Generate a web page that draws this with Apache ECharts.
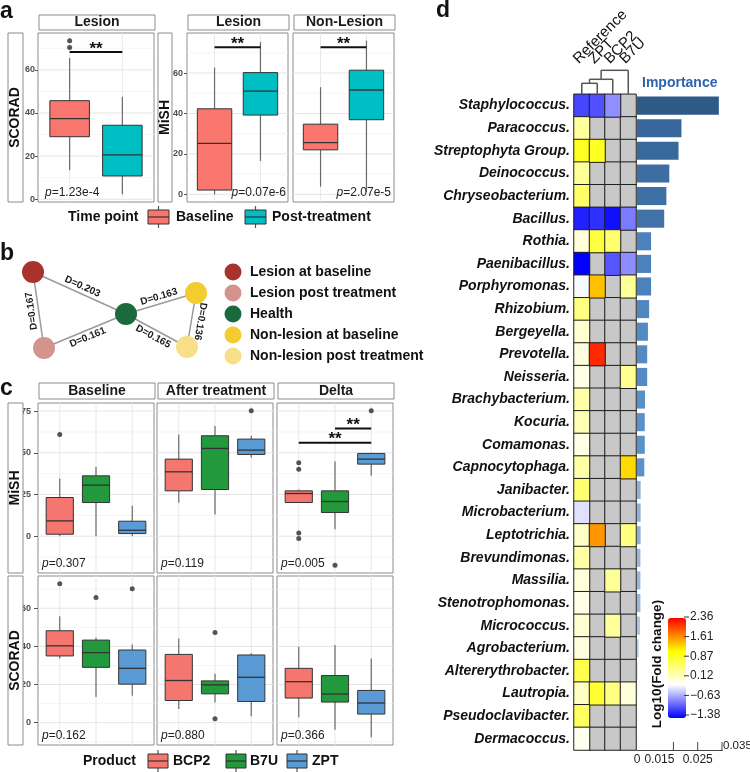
<!DOCTYPE html>
<html><head><meta charset="utf-8">
<script src="https://cdn.jsdelivr.net/npm/echarts@6/dist/echarts.min.js"></script>
<style>html,body{margin:0;padding:0;background:#fff}#main{width:750px;height:772px}</style>
</head><body><div id="main"></div>
<script>
// ================= DATA =================
// Panel a: boxplot stats [min, Q1, median, Q3, max]
const timePoints = ['Baseline', 'Post-treatment'];
const aFacets = ['Lesion', 'Lesion', 'Non-Lesion'];
const aScoradLesion = [[13.4, 29, 37.4, 45.7, 65.5], [2.3, 10.8, 20.6, 34.3, 47.5]];
const aScoradLesionOutliers = [[1, 73.5], [1, 70.3]];
const aMishLesion = [[0, 2.1, 25.2, 42.3, 62.7], [16.5, 39.2, 51, 60.2, 75.3]];
const aMishNonLesion = [[3.8, 22, 25.6, 34.7, 53], [1.2, 36.9, 51.6, 61.4, 76]];
const aPValues = ['1.23e-4', '0.07e-6', '2.07e-5'];
const aSignif = [[1, 2, 68.3], [1, 2, 72.8], [1, 2, 72.8]];
const aTicks = [0, 20, 40, 60];

// Panel b: network
const networkNodes = ['Lesion at baseline', 'Lesion post treatment', 'Health', 'Non-lesion at baseline', 'Non-lesion post treatment'];
const networkEdges = [[0, 2, 0.203], [1, 0, 0.167], [1, 2, 0.161], [2, 3, 0.163], [2, 4, 0.165], [3, 4, 0.136]];

// Panel c
const products = ['BCP2', 'B7U', 'ZPT'];
const cFacets = ['Baseline', 'After treatment', 'Delta'];
const cMishBaseline = [[0.2, 1.2, 9.2, 23.2, 34.6], [0.2, 20.2, 30.6, 36.2, 41.6], [0.2, 1.6, 3.6, 9, 18.2]];
const cMishAfter = [[20, 27.2, 38.6, 46.2, 61], [13, 28, 52.6, 60.2, 66], [47.2, 49, 51.6, 58.2, 60.2]];
const cMishDelta = [[20, 20.2, 25.6, 27.2, 28], [4.2, 14.2, 20.8, 27.2, 45], [36.2, 43.2, 46.2, 49.6, 50]];
const cMishBaselineOut = [[1, 61]];
const cMishAfterOut = [[3, 75.2]];
const cMishDeltaOut = [[1, 44], [1, 40.2], [1, 2], [1, -1.4], [2, -17.4], [3, 75.2]];
const cScoradBaseline = [[33.7, 35, 40.3, 48.2, 55.8], [13.4, 29, 36.7, 43.3, 44.7], [14.1, 20.2, 28.5, 38.1, 41]];
const cScoradAfter = [[7.1, 11.6, 22.1, 35.8, 44.2], [10.6, 15.1, 19.8, 21.9, 25.6], [3.3, 11.1, 23.8, 35.5, 36.4]];
const cScoradDelta = [[2.8, 12.9, 21.5, 28.5, 39.8], [-3.7, 10.8, 15, 24.7, 40.7], [-7.7, 4.5, 10.3, 16.9, 33.7]];
const cScoradBaselineOut = [[1, 72.9], [2, 65.6], [3, 70.3]];
const cScoradAfterOut = [[2, 47.3], [2, 2.1]];
const cScoradDeltaOut = [];
const cMishDeltaSignif = [[2, 3, 64.6], [1, 3, 56]];
const cPValuesMish = ['0.307', '0.119', '0.005'];
const cPValuesScorad = ['0.162', '0.880', '0.366'];
const cMishTicks = [0, 25, 50, 75];
const cScoradTicks = [0, 20, 40, 60];

// Panel d
const hmColumns = ['Reference', 'ZPT', 'BCP2', 'B7U'];
const genera = ['Staphylococcus.', 'Paracoccus.', 'Streptophyta Group.', 'Deinococcus.', 'Chryseobacterium.', 'Bacillus.', 'Rothia.', 'Paenibacillus.', 'Porphyromonas.', 'Rhizobium.', 'Bergeyella.', 'Prevotella.', 'Neisseria.', 'Brachybacterium.', 'Kocuria.', 'Comamonas.', 'Capnocytophaga.', 'Janibacter.', 'Microbacterium.', 'Leptotrichia.', 'Brevundimonas.', 'Massilia.', 'Stenotrophomonas.', 'Micrococcus.', 'Agrobacterium.', 'Altererythrobacter.', 'Lautropia.', 'Pseudoclavibacter.', 'Dermacoccus.'];
const fcReference = [-1.04, 0.35, 0.95, 0.37, 0.62, -1.22, 0.05, -1.38, -0.17, 0.49, 0.10, 0.02, -0.01, 0.30, 0.24, -0.01, 0.30, 0.57, -0.28, 0.14, 0.30, 0.05, -0.01, 0.10, 0.02, 0.73, 0.17, 0.65, -0.06];
const fcZPT = [-0.99, null, 0.95, null, null, -1.15, 0.80, null, 1.42, null, null, 2.16, null, null, null, null, null, null, null, 1.63, null, null, null, null, null, null, 0.87, null, null];
const fcBCP2 = [-0.68, null, null, null, null, -1.30, 0.57, -0.96, null, null, null, null, null, null, null, null, null, null, null, null, null, 0.37, null, 0.35, null, null, 0.49, null, null];
const fcB7U = [null, null, null, null, null, -0.78, null, -0.69, 0.37, null, null, null, 0.40, null, null, null, 1.30, null, null, 0.49, null, null, null, null, null, null, 0.05, null, null];
const importance = [0.0337, 0.0183, 0.0171, 0.0133, 0.0121, 0.0112, 0.0058, 0.0058, 0.0058, 0.0050, 0.0045, 0.0042, 0.0042, 0.0033, 0.0032, 0.0032, 0.0030, 0.0015, 0.0015, 0.0015, 0.0014, 0.0014, 0.0014, 0.0012, 0.0007, 0.0002, 0.0001, 0.0001, 0.0001];
const colorbarTicks = [2.36, 1.61, 0.87, 0.12, -0.63, -1.38];
const importanceMax = 0.035;
const importanceLabelTicks = [0, 0.015, 0.025];
const importanceTickMarks = [0.015, 0.025, 0.035];
const dendroHeights = [11, 15, 24];

// ================= LAYOUT / STYLE =================
const FONT = '"Liberation Sans", Arial, Helvetica, sans-serif';
const aColors = ['#F8766D', '#00BFC4'];
const cColors = ['#F4766E', '#21993C', '#5B9BD5'];
const nodeColors = ['#A8322C', '#D5938D', '#1A6A3E', '#F3CC2F', '#F8DF88'];
const nodePos = [[33, 272], [44, 348], [126, 314], [196, 293], [187, 347]];
const edgeLabelSide = [1, 1, -1, 1, -1, 1];
const edgeLabelDist = [7, 7, 7, 7, 7, 9];
const aRects = [{x: 38, y: 33, w: 116, h: 169}, {x: 187, y: 33, w: 101, h: 169}, {x: 293, y: 33, w: 101, h: 169}];
const cColsX = [{x: 38, w: 116}, {x: 157, w: 116}, {x: 277, w: 116}];
const cRowsY = [{y: 403, h: 170}, {y: 576, h: 169}];
const HM = {x: 574, y: 94.3, w: 62, h: 655.7};
const BAR = {x: 637, w: 85};
const CB = {x: 668, y: 618, w: 18, h: 100, tickTop: 617, tickStep: 19.6};
const impLabelAlign = ['center', 'right', 'center'];

// ================= HELPERS =================
function expandRange(boxes, outs) {
  const vals = [];
  boxes.forEach(b => vals.push(...b));
  outs.forEach(o => vals.push(o[1]));
  const mn = Math.min(...vals), mx = Math.max(...vals), e = (mx - mn) * 0.05;
  return [mn - e, mx + e];
}
function minorOf(ticks, lo, hi) {
  const step = ticks[1] - ticks[0], out = [];
  for (let v = ticks[0] - step / 2; v <= hi; v += step) if (v >= lo) out.push(v);
  return out;
}
function renderGridLine(params, api) {
  const cs = params.coordSys;
  const kind = api.value(2);
  const p = api.coord([api.value(0), api.value(1)]);
  if (kind === 2) {
    return {type: 'line', shape: {x1: p[0], y1: cs.y, x2: p[0], y2: cs.y + cs.height}, style: {stroke: '#e8e8e8', lineWidth: 1}};
  }
  return {type: 'line', shape: {x1: cs.x, y1: p[1], x2: cs.x + cs.width, y2: p[1]},
    style: {stroke: kind === 0 ? '#e5e5e5' : '#f1f1f1', lineWidth: kind === 0 ? 1 : 0.8}};
}
function makeBoxRenderer(colors) {
  return function (params, api) {
    const x = api.value(0);
    const pMin = api.coord([x, api.value(1)]), pQ1 = api.coord([x, api.value(2)]), pMed = api.coord([x, api.value(3)]),
      pQ3 = api.coord([x, api.value(4)]), pMax = api.coord([x, api.value(5)]);
    const w = api.size([0.75, 0])[0];
    const cx = pMed[0];
    return {type: 'group', children: [
      {type: 'line', shape: {x1: cx, y1: pMax[1], x2: cx, y2: pQ3[1]}, style: {stroke: '#6a6a6a', lineWidth: 1.2}},
      {type: 'line', shape: {x1: cx, y1: pQ1[1], x2: cx, y2: pMin[1]}, style: {stroke: '#6a6a6a', lineWidth: 1.2}},
      {type: 'rect', shape: {x: cx - w / 2, y: pQ3[1], width: w, height: pQ1[1] - pQ3[1]}, style: {fill: colors[params.dataIndex], stroke: '#333', lineWidth: 1}},
      {type: 'line', shape: {x1: cx - w / 2, y1: pMed[1], x2: cx + w / 2, y2: pMed[1]}, style: {stroke: '#333', lineWidth: 1.3}}
    ]};
  };
}
function renderSignif(params, api) {
  const p1 = api.coord([api.value(0), api.value(2)]), p2 = api.coord([api.value(1), api.value(2)]);
  return {type: 'group', children: [
    {type: 'line', shape: {x1: p1[0], y1: p1[1], x2: p2[0], y2: p2[1]}, style: {stroke: '#111', lineWidth: 2}},
    {type: 'text', x: (p1[0] + p2[0]) / 2, y: p1[1] - 3, style: {text: '**', fill: '#111', fontSize: 17, fontWeight: 'bold', fontFamily: FONT, align: 'center', verticalAlign: 'middle'}}
  ]};
}

const grids = [], xAxes = [], yAxes = [], series = [], graphics = [];
function gText(x, y, text, o) {
  o = o || {};
  const st = {text: text, fontSize: o.size || 14, fontWeight: o.weight || 'normal', fontStyle: o.fstyle || 'normal',
    fontFamily: FONT, fill: o.color || '#111', align: o.align || 'left', verticalAlign: o.va || 'middle'};
  if (o.rich) st.rich = o.rich;
  return {type: 'text', x: x, y: y, rotation: o.rotation || 0, silent: true, z: 20, style: st};
}
function gRect(x, y, w, h, o) {
  o = o || {};
  return {type: 'rect', shape: {x: x, y: y, width: w, height: h}, silent: true, z: o.z || 15,
    style: {fill: o.fill || '#fff', stroke: o.stroke || '#8c8c8c', lineWidth: o.lw || 1}};
}
function gLine(x1, y1, x2, y2, o) {
  o = o || {};
  return {type: 'line', shape: {x1: x1, y1: y1, x2: x2, y2: y2}, silent: true, z: o.z || 16,
    style: {stroke: o.stroke || '#333', lineWidth: o.lw || 1}};
}
function pLabel(x, y, val, align) {
  return gText(x, y, '{i|p}=' + val, {size: 12, color: '#222', align: align,
    rich: {i: {fontStyle: 'italic', fontSize: 12, fontFamily: FONT, fill: '#222'}}});
}

function addBoxPanel(o) {
  const gi = grids.length;
  grids.push({left: o.x, top: o.y, width: o.w, height: o.h, show: true, borderColor: '#8c8c8c', borderWidth: 1, backgroundColor: '#fff', outerBoundsMode: 'none'});
  xAxes.push({gridIndex: gi, type: 'value', min: 0.4, max: o.nCat + 0.6, show: false});
  yAxes.push({gridIndex: gi, type: 'value', min: o.range[0], max: o.range[1],
    axisLine: {show: false}, splitLine: {show: false},
    axisTick: {show: o.showY, length: o.tickLen, lineStyle: {color: '#555'}, customValues: o.ticks},
    axisLabel: {show: o.showY, customValues: o.ticks, margin: o.margin, fontSize: 9, fontWeight: 'bold', color: '#4d4d4d', fontFamily: FONT}});
  const gl = [];
  o.ticks.forEach(v => gl.push([1, v, 0]));
  minorOf(o.ticks, o.range[0], o.range[1]).forEach(v => gl.push([1, v, 1]));
  for (let i = 1; i <= o.nCat; i++) gl.push([i, o.range[0], 2]);
  series.push({type: 'custom', xAxisIndex: gi, yAxisIndex: gi, data: gl, renderItem: renderGridLine, silent: true, z: 1, encode: {x: 0, y: 1}});
  series.push({type: 'custom', xAxisIndex: gi, yAxisIndex: gi, data: o.boxes.map((b, i) => [i + 1].concat(b)),
    renderItem: makeBoxRenderer(o.colors), encode: {x: 0, y: [1, 2, 3, 4, 5]}, z: 3, silent: true});
  if (o.outliers.length) series.push({type: 'scatter', xAxisIndex: gi, yAxisIndex: gi, data: o.outliers, symbolSize: 5,
    itemStyle: {color: '#2b2b2b'}, z: 4, silent: true});
  if (o.signif && o.signif.length) series.push({type: 'custom', xAxisIndex: gi, yAxisIndex: gi, data: o.signif,
    renderItem: renderSignif, encode: {x: [0, 1], y: 2}, z: 5, silent: true});
}

// ---------- Panel a ----------
const aRangeScorad = expandRange(aScoradLesion, aScoradLesionOutliers);
const aRangeMish = expandRange(aMishLesion.concat(aMishNonLesion), []);
const aPanels = [
  {boxes: aScoradLesion, outliers: aScoradLesionOutliers, range: aRangeScorad, showY: true, margin: 3},
  {boxes: aMishLesion, outliers: [], range: aRangeMish, showY: true, margin: 4},
  {boxes: aMishNonLesion, outliers: [], range: aRangeMish, showY: false, margin: 4}
];
aPanels.forEach((p, i) => {
  const r = aRects[i];
  addBoxPanel({x: r.x, y: r.y, w: r.w, h: r.h, nCat: 2, boxes: p.boxes, outliers: p.outliers, signif: [aSignif[i]],
    colors: aColors, ticks: aTicks, range: p.range, showY: p.showY, margin: p.margin, tickLen: 3});
  graphics.push(gRect(r.x + 1, 15, r.w, 15));
  graphics.push(gText(r.x + 1 + r.w / 2, 22.5, aFacets[i], {size: 14, weight: 'bold', align: 'center', color: '#1a1a1a'}));
});
graphics.push(pLabel(45, 193, aPValues[0], 'left'));
graphics.push(pLabel(286, 193, aPValues[1], 'right'));
graphics.push(pLabel(391, 193, aPValues[2], 'right'));
graphics.push(gRect(8, 33, 15, 169));
graphics.push(gText(15.5, 117.5, 'SCORAD', {size: 14, weight: 'bold', align: 'center', rotation: Math.PI / 2}));
graphics.push(gRect(158, 33, 14, 169));
graphics.push(gText(165, 117.5, 'MiSH', {size: 14, weight: 'bold', align: 'center', rotation: Math.PI / 2}));

function legendSwatch(x, y, w, color) {
  graphics.push(gLine(x + w / 2, y - 11, x + w / 2, y + 11, {stroke: '#555', lw: 1.2}));
  graphics.push(gRect(x, y - 7, w, 14, {fill: color, stroke: '#333', lw: 1, z: 17}));
  graphics.push(gLine(x, y, x + w, y, {stroke: '#333', lw: 1.2, z: 18}));
}
graphics.push(gText(68, 217, 'Time point', {size: 14, weight: 'bold'}));
const aLegX = [{sx: 148, tx: 176}, {sx: 245, tx: 272}];
timePoints.forEach((t, i) => {
  legendSwatch(aLegX[i].sx, 217, 21, aColors[i]);
  graphics.push(gText(aLegX[i].tx, 217, t, {size: 14, weight: 'bold'}));
});

// ---------- Panel c ----------
const cMishBoxes = [cMishBaseline, cMishAfter, cMishDelta];
const cMishOuts = [cMishBaselineOut, cMishAfterOut, cMishDeltaOut];
const cScoradBoxes = [cScoradBaseline, cScoradAfter, cScoradDelta];
const cScoradOuts = [cScoradBaselineOut, cScoradAfterOut, cScoradDeltaOut];
const cMishRange = expandRange([].concat(...cMishBoxes), [].concat(...cMishOuts));
const cScoradRange = expandRange([].concat(...cScoradBoxes), [].concat(...cScoradOuts));
const cRowDefs = [
  {boxes: cMishBoxes, outs: cMishOuts, range: cMishRange, ticks: cMishTicks, pv: cPValuesMish, name: 'MiSH'},
  {boxes: cScoradBoxes, outs: cScoradOuts, range: cScoradRange, ticks: cScoradTicks, pv: cPValuesScorad, name: 'SCORAD'}
];
cRowDefs.forEach((row, ri) => {
  const ry = cRowsY[ri];
  cColsX.forEach((col, ci) => {
    addBoxPanel({x: col.x, y: ry.y, w: col.w, h: ry.h, nCat: 3, boxes: row.boxes[ci], outliers: row.outs[ci],
      signif: (ri === 0 && ci === 2) ? cMishDeltaSignif : [], colors: cColors, ticks: row.ticks, range: row.range,
      showY: ci === 0, margin: 7, tickLen: 4});
    graphics.push(pLabel(col.x + 4, ry.y + ry.h - 9, row.pv[ci], 'left'));
  });
  graphics.push(gRect(8, ry.y, 15, ry.h));
  graphics.push(gText(15.5, ry.y + ry.h / 2, row.name, {size: 14, weight: 'bold', align: 'center', rotation: Math.PI / 2}));
});
cColsX.forEach((col, ci) => {
  graphics.push(gRect(col.x + 1, 383, col.w, 16));
  graphics.push(gText(col.x + 1 + col.w / 2, 391, cFacets[ci], {size: 14, weight: 'bold', align: 'center', color: '#1a1a1a'}));
});
graphics.push(gText(83, 761, 'Product', {size: 14, weight: 'bold'}));
const cLegX = [{sx: 148, tx: 173}, {sx: 226, tx: 250}, {sx: 287, tx: 312}];
products.forEach((p, i) => {
  legendSwatch(cLegX[i].sx, 761, 20, cColors[i]);
  graphics.push(gText(cLegX[i].tx, 761, p, {size: 14, weight: 'bold'}));
});

// ---------- Panel d ----------
const hmGrid = grids.length;
grids.push({left: HM.x, top: HM.y, width: HM.w, height: HM.h, show: false, outerBoundsMode: 'none'});
xAxes.push({gridIndex: hmGrid, type: 'category', data: hmColumns, position: 'top',
  axisLine: {show: false}, axisTick: {show: false}, splitLine: {show: false}, axisLabel: {show: false}});
yAxes.push({gridIndex: hmGrid, type: 'category', data: genera, inverse: true,
  axisLine: {show: false}, axisTick: {show: false}, splitLine: {show: false},
  axisLabel: {margin: 4, fontSize: 14, fontWeight: 'bold', fontStyle: 'italic', color: '#111', fontFamily: FONT, interval: 0}});
const fcColumns = [fcReference, fcZPT, fcBCP2, fcB7U];
const naCells = [], valCells = [];
fcColumns.forEach((col, ci) => col.forEach((v, ri) => {
  if (v === null) naCells.push([ci, ri, 0]); else valCells.push([ci, ri, v]);
}));
series.push({type: 'heatmap', xAxisIndex: hmGrid, yAxisIndex: hmGrid, data: naCells, silent: true,
  itemStyle: {color: '#C8C8C8', borderColor: '#1e1e1e', borderWidth: 1}});
const hmSeriesIndex = series.length;
series.push({type: 'heatmap', xAxisIndex: hmGrid, yAxisIndex: hmGrid, data: valCells, silent: true,
  itemStyle: {borderColor: '#1e1e1e', borderWidth: 1}});

// column labels (rotated 45 deg, reading upward)
const colCenters = hmColumns.map((c, i) => HM.x + (i + 0.5) * HM.w / hmColumns.length);
hmColumns.forEach((c, i) => {
  graphics.push(gText(colCenters[i] - 6, HM.y - 33, c, {size: 15, color: '#111', rotation: Math.PI / 4}));
});

// importance bars
const barGrid = grids.length;
grids.push({left: BAR.x, top: HM.y, width: BAR.w, height: HM.h, show: false, outerBoundsMode: 'none'});
xAxes.push({gridIndex: barGrid, type: 'value', min: 0, max: importanceMax, position: 'bottom',
  axisLine: {show: true, lineStyle: {color: '#444', width: 1}},
  axisTick: {show: false}, axisLabel: {show: false}, splitLine: {show: false},
  name: String(importanceMax), nameLocation: 'end', nameGap: 1,
  nameTextStyle: {fontSize: 11.5, color: '#222', fontFamily: FONT, verticalAlign: 'bottom', padding: [0, 0, -2, 0]}});
yAxes.push({gridIndex: barGrid, type: 'category', data: genera, inverse: true, show: false});
const impStops = [[0, [214, 226, 240]], [0.0012, [168, 196, 226]], [0.0015, [140, 176, 216]], [0.003, [90, 146, 203]],
  [0.006, [74, 129, 189]], [0.012, [62, 111, 165]], [0.02, [53, 101, 152]], [0.035, [45, 89, 134]]];
function impColor(v) {
  for (let i = 1; i < impStops.length; i++) {
    if (v <= impStops[i][0]) {
      const a = impStops[i - 1], b = impStops[i], t = (v - a[0]) / (b[0] - a[0]);
      const c = a[1].map((x, k) => Math.round(x + (b[1][k] - x) * t));
      return 'rgb(' + c.join(',') + ')';
    }
  }
  return 'rgb(45,89,134)';
}
series.push({type: 'bar', xAxisIndex: barGrid, yAxisIndex: barGrid, data: importance, barWidth: '80%', silent: true,
  itemStyle: {color: p => impColor(p.value)}});
const impX = v => BAR.x + v / importanceMax * BAR.w;
const axisY = HM.y + HM.h;
importanceTickMarks.forEach(v => graphics.push(gLine(impX(v), axisY - 8, impX(v), axisY + 1, {stroke: '#444', lw: 1})));
importanceLabelTicks.forEach((v, i) => graphics.push(gText(impX(v) + (impLabelAlign[i] === 'right' ? 1 : 0), axisY + 10, String(v), {size: 12, color: '#222', align: impLabelAlign[i]})));
graphics.push(gText(642, 83, 'Importance', {size: 14, weight: 'bold', color: '#2F63AE'}));

// dendrogram
let clX = colCenters[0], clY = HM.y;
dendroHeights.forEach((h, k) => {
  const rx = colCenters[k + 1], H = HM.y - h;
  graphics.push(gLine(clX, clY, clX, H, {stroke: '#555', lw: 1.5}));
  graphics.push(gLine(rx, HM.y, rx, H, {stroke: '#555', lw: 1.5}));
  graphics.push(gLine(clX, H, rx, H, {stroke: '#555', lw: 1.5}));
  clX = (clX + rx) / 2; clY = H;
});

// colorbar labels
colorbarTicks.forEach((v, i) => {
  const y = CB.tickTop + i * CB.tickStep;
  graphics.push(gLine(CB.x + CB.w - 2, y, CB.x + CB.w + 3, y, {stroke: '#333', lw: 1}));
  graphics.push(gText(CB.x + CB.w + 4, y, (v < 0 ? '\u2212' + Math.abs(v).toFixed(2) : v.toFixed(2)), {size: 12, color: '#222'}));
});
graphics.push(gText(657, 664, 'Log10(Fold change)', {size: 13.5, weight: 'bold', align: 'center', rotation: Math.PI / 2}));

// ---------- Panel b ----------
const netGrid = grids.length;
grids.push({left: 0, top: 0, width: 750, height: 772, show: false, outerBoundsMode: 'none'});
xAxes.push({gridIndex: netGrid, type: 'value', min: 0, max: 750, show: false});
yAxes.push({gridIndex: netGrid, type: 'value', min: 0, max: 772, inverse: true, show: false});
series.push({type: 'graph', coordinateSystem: 'cartesian2d', xAxisIndex: netGrid, yAxisIndex: netGrid, silent: true,
  symbolSize: 22, z: 6,
  data: networkNodes.map((n, i) => ({name: n, value: nodePos[i], itemStyle: {color: nodeColors[i]}})),
  links: networkEdges.map(e => ({source: e[0], target: e[1]})),
  lineStyle: {color: '#9a9a9a', width: 1.5, opacity: 1}, label: {show: false}});
series.push({type: 'custom', xAxisIndex: netGrid, yAxisIndex: netGrid, silent: true, z: 7,
  data: networkEdges.map(e => nodePos[e[0]].concat(nodePos[e[1]], [e[2]])),
  encode: {x: [0, 2], y: [1, 3]},
  renderItem: function (params, api) {
    const p1 = api.coord([api.value(0), api.value(1)]), p2 = api.coord([api.value(2), api.value(3)]);
    const dx = p2[0] - p1[0], dy = p2[1] - p1[1], len = Math.sqrt(dx * dx + dy * dy);
    const nx = dy / len, ny = -dx / len;
    const s = edgeLabelSide[params.dataIndex] * edgeLabelDist[params.dataIndex];
    const cx = (p1[0] + p2[0]) / 2 + nx * s, cy = (p1[1] + p2[1]) / 2 + ny * s;
    return {type: 'text', x: cx, y: cy, rotation: -Math.atan2(dy, dx),
      style: {text: 'D=' + api.value(4).toFixed(3), fill: '#1a1a1a', fontSize: 10, fontWeight: 'bold', fontFamily: FONT, align: 'center', verticalAlign: 'middle'}};
  }});
networkNodes.forEach((n, i) => {
  const y = 272 + i * 21;
  graphics.push({type: 'circle', shape: {cx: 233, cy: y, r: 8.5}, silent: true, z: 16, style: {fill: nodeColors[i]}});
  graphics.push(gText(250, y, n, {size: 14, weight: 'bold'}));
});

// panel letters
graphics.push(gText(0, 12, 'a', {size: 23, weight: 'bold'}));
graphics.push(gText(0, 254, 'b', {size: 23, weight: 'bold'}));
graphics.push(gText(0, 389, 'c', {size: 23, weight: 'bold'}));
graphics.push(gText(436, 11, 'd', {size: 23, weight: 'bold'}));

const chart = echarts.init(document.getElementById('main'));
chart.setOption({
  animation: false,
  backgroundColor: '#fff',
  textStyle: {fontFamily: FONT},
  grid: grids, xAxis: xAxes, yAxis: yAxes, series: series, graphic: {elements: graphics},
  visualMap: [{type: 'continuous', min: -1.38, max: 2.36, seriesIndex: hmSeriesIndex, orient: 'vertical',
    left: CB.x, top: CB.y, itemWidth: CB.w, itemHeight: CB.h, padding: 0, calculable: false, hoverLink: false,
    text: null, inRange: {color: ['#0000FF', '#FFFFFF', '#FFFF00', '#FF0000']}}]
});
</script></body></html>
